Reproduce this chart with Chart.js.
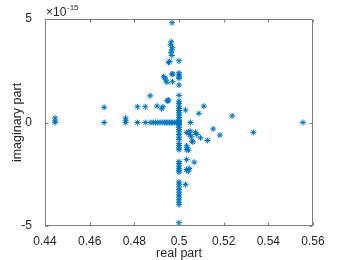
<!DOCTYPE html>
<html><head><meta charset="utf-8">
<script src="https://cdn.jsdelivr.net/npm/chart.js@4.4.0/dist/chart.umd.min.js"></script>
<style>html,body{margin:0;padding:0;background:#fff}#wrap{width:346px;height:260px}</style>
</head><body><div id="wrap"><canvas id="c" width="346" height="260"></canvas></div>
<script>
// Real parts of the eigenvalues
const realPart = [
 0.4445,0.4445,0.4445,
 0.4665,0.4665,
 0.4761,0.4761,0.4761,
 0.4814,0.4814,
 0.4849,0.4849,
 0.4871,0.4871,
 0.4902,0.4922,0.4928,
 0.4885,0.4895,0.4905,0.4915,0.4925,0.4935,0.4942,0.4950,0.4958,0.4965,0.4972,0.4980,0.4988,0.4994,
 0.4947,0.4953,0.4950,
 0.4931,0.4937,0.4941,0.4946,
 0.4953,0.4958,
 0.4964,0.4967,0.4962,0.4965,0.4968,0.4971,
 0.4969,
 0.4968,0.4972,0.4971,
 0.5,0.5,0.5,0.5,0.5,0.5,0.5,0.5,0.5,0.5,0.5,0.5,0.5,0.5,0.5,0.5,0.5,0.5,0.5,0.5,0.5,0.5,0.5,0.5,
 0.5,0.5,0.5,0.5,0.5,0.5,0.5,0.5,0.5,0.5,0.5,0.5,0.5,0.5,0.5,0.5,0.5,0.5,0.5,0.5,0.5,0.5,0.5,
 0.5029,0.5051,0.5111,0.5089,0.5238,0.5153,0.5183,0.5333,0.5555,
 0.5034,0.5045,0.5050,0.5048,0.5055,0.5058,0.5062,0.5074,0.5080,0.5096,0.5127,
 0.5034,0.5038,0.5042,0.5034,
 0.5034,0.5034,0.5042,0.5046,0.5068,0.5029
];
// Imaginary parts, in units of 1e-15
const imagPart = [
 0.22,0.08,0,
 0.73,0,
 0.21,0.1,0,
 0.76,0,
 0.76,0,
 1.29,0,
 0.79,0.66,0.76,
 0,0,0,0,0,0,0,0,0,0,0,0,0,0,
 1.06,1.08,1.04,
 2.21,2.16,2.05,1.94,
 2.90,2.95,
 3.39,3.50,3.76,3.90,3.24,3.61,
 4.82,
 2.34,2.34,1.97,
 2.98,2.40,2.29,2.20,2.13,1.81,1.31,1.03,0.92,0.79,0.68,0.58,0.47,0.36,0.24,0.11,0,0.05,-0.05,-0.11,-0.23,-0.34,-0.45,-0.58,
 -0.71,-0.82,-1.01,-1.11,-1.23,-1.32,-1.89,-1.98,-2.10,-2.21,-2.31,-2.39,-2.87,-2.98,-3.11,-3.24,-3.37,-3.49,-3.60,-3.73,-3.86,-3.97,-4.84,
 0.60,0,0.79,0.44,0.32,-0.31,-0.61,-0.48,0,
 -0.48,-0.48,-0.42,-0.58,-0.69,-0.90,-0.94,-0.48,-0.58,-0.74,-0.87,
 -1.13,-1.23,-1.34,-1.31,
 -1.79,-2.27,-2.35,-2.22,-1.92,-3.0
];
const xTicks = [0.44,0.46,0.48,0.5,0.52,0.54,0.56];
const yTicks = [-5,0,5];
const xLabel = 'real part';
const yLabel = 'imaginary part';

const pts = realPart.map((x,i)=>({x:x,y:imagPart[i]}));
const AX = '#262626';
const BOX = '#808080';
const FONT = '"Liberation Sans", Arial, sans-serif';

const framePlugin = {
  id:'frame',
  afterDatasetsDraw(chart){
    const ctx = chart.ctx, a = chart.chartArea, xs = chart.scales.x, ys = chart.scales.y;
    ctx.save();
    ctx.strokeStyle = BOX; ctx.lineWidth = 1;
    const L = Math.round(a.left)+0.5, R = Math.round(a.right)-0.5, T = Math.round(a.top)+0.5, B = Math.round(a.bottom)-0.5;
    ctx.beginPath(); ctx.rect(L, T, R-L, B-T); ctx.stroke();
    ctx.beginPath();
    xTicks.forEach(v=>{ const p = Math.round(xs.getPixelForValue(v))+0.5;
      ctx.moveTo(p,B); ctx.lineTo(p,B-3); ctx.moveTo(p,T); ctx.lineTo(p,T+3); });
    yTicks.forEach(v=>{ const p = Math.round(ys.getPixelForValue(v))+0.5;
      ctx.moveTo(L,p); ctx.lineTo(L+3,p); ctx.moveTo(R,p); ctx.lineTo(R-3,p); });
    ctx.stroke();
    ctx.fillStyle = AX;
    ctx.font = '12.5px ' + FONT;
    ctx.textAlign = 'center'; ctx.textBaseline = 'alphabetic';
    ctx.fillText(xLabel, (a.left+a.right)/2, 257);
    ctx.save(); ctx.translate(21, (a.top+a.bottom)/2); ctx.rotate(-Math.PI/2);
    ctx.fillText(yLabel, 0, 0); ctx.restore();
    ctx.textAlign = 'left';
    ctx.font = '12px ' + FONT;
    ctx.fillText('\u00d710', 46, 16);
    ctx.font = '8px ' + FONT;
    ctx.fillText('-15', 67, 10);
    ctx.restore();
  }
};

new Chart(document.getElementById('c'), {
  type:'scatter',
  data:{datasets:[{data:pts, pointStyle:'star', radius:3, borderWidth:1, borderColor:'#0072BD', backgroundColor:'#0072BD', pointHoverRadius:3}]},
  options:{
    responsive:false, animation:false, devicePixelRatio:1,
    layout:{padding:{left:0,right:33,top:19,bottom:0}},
    plugins:{legend:{display:false}, tooltip:{enabled:false}},
    scales:{
      x:{type:'linear', min:0.44, max:0.56, grid:{display:false}, border:{display:false},
         afterBuildTicks(s){ s.ticks = xTicks.map(v=>({value:v})); },
         afterFit(s){ s.height = 34; },
         ticks:{color:AX, font:{family:FONT,size:12}, padding:0, maxRotation:0, autoSkip:false,
                callback:(v)=>String(+v.toFixed(2)) }},
      y:{type:'linear', min:-5, max:5, grid:{display:false}, border:{display:false},
         afterBuildTicks(s){ s.ticks = yTicks.map(v=>({value:v})); },
         afterFit(s){ s.width = 45; },
         ticks:{color:AX, font:{family:FONT,size:12}, padding:5, callback:(v)=>String(v)}}
    }
  },
  plugins:[framePlugin]
});
</script></body></html>
